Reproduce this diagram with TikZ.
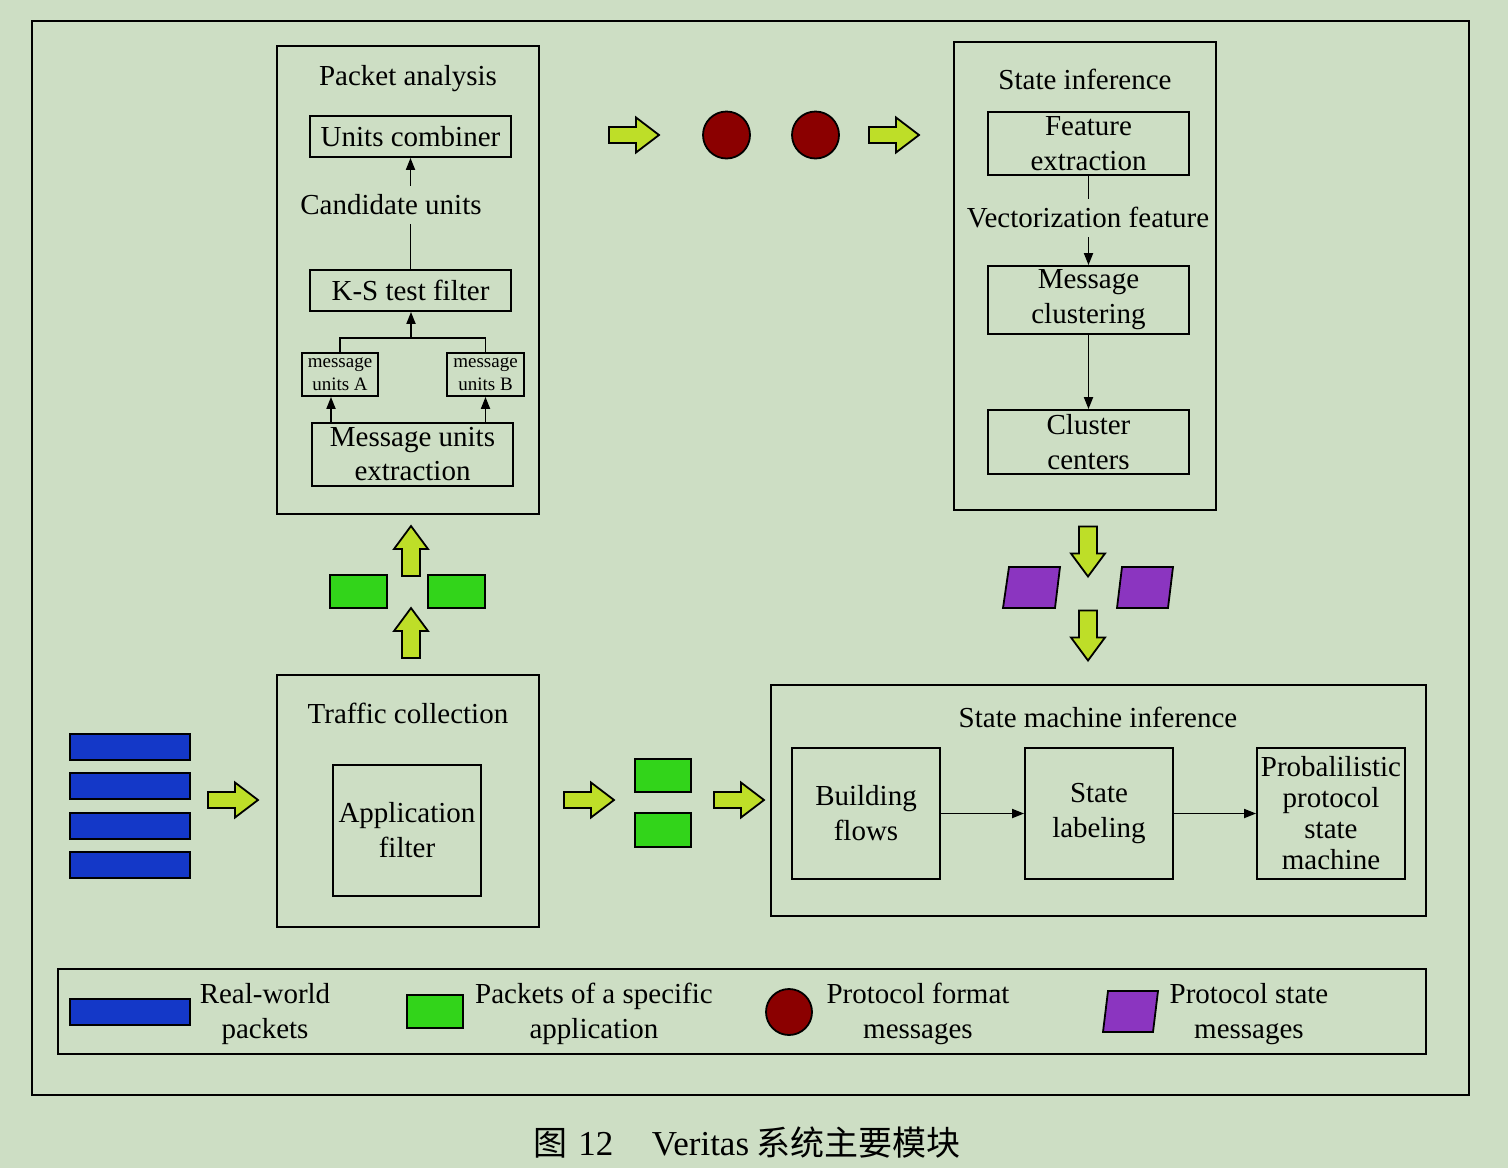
\documentclass[tikz,border=0pt]{standalone}
\usepackage{fontspec}
\setmainfont{Liberation Serif}
\newfontfamily\cjk{Noto Sans CJK SC}
\usetikzlibrary{arrows.meta}
\definecolor{bgc}{RGB}{205,222,196}
\definecolor{yg}{RGB}{190,222,40}
\definecolor{dred}{RGB}{139,0,0}
\definecolor{pgreen}{RGB}{50,212,26}
\definecolor{pblue}{RGB}{20,56,200}
\definecolor{ppurple}{RGB}{139,53,192}
\tikzset{
  big/.style={font=\fontsize{29}{35}\selectfont},
  box/.style={draw, line width=1.8pt, inner sep=0pt, align=center, big},
  lbl/.style={inner sep=0pt, align=center, big},
  arr/.style={-{Triangle[length=12pt,width=9pt]}, line width=1.8pt},
  ln/.style={line width=1.8pt},
  blk/.style={draw, line width=1.8pt, fill=yg, line join=miter},
  pkt/.style={draw, line width=1.8pt},
  rarrow/.pic={\draw[blk] (-25,-8) -- (2,-8) -- (2,-17.5) -- (25,0) -- (2,17.5) -- (2,8) -- (-25,8) -- cycle;},
  uarrow/.pic={\draw[blk] (-9,25) -- (-9,-2) -- (-17,-2) -- (0,-25) -- (17,-2) -- (9,-2) -- (9,25) -- cycle;},
  darrow/.pic={\draw[blk] (-9,-25) -- (-9,2) -- (-17,2) -- (0,25) -- (17,2) -- (9,2) -- (9,-25) -- cycle;},
}
\begin{document}
\begin{tikzpicture}[x=1pt,y=-1pt]
\useasboundingbox[fill=bgc] (0,0) rectangle (1508,1168);
% outer frame
\draw[line width=1.8pt] (32,21) rectangle (1469,1095);

% ---------- Packet analysis ----------
\node[box, minimum width=262, minimum height=468] (pa) at (408,280) {};
\node[lbl] (pat) at (408,79) {Packet analysis};
\node[box, minimum width=201, minimum height=41] (uc) at (410.5,136.5) {Units combiner};
\node[lbl, minimum height=38] (cu) at (391,205) {Candidate units};
\node[box, minimum width=201, minimum height=41] (ks) at (410.5,290.5) {K-S test filter};
\node[box, minimum width=76, minimum height=43, font=\fontsize{19}{23}\selectfont] (ma) at (340,374.5) {message\\units A};
\node[box, minimum width=77, minimum height=43, font=\fontsize{19}{23}\selectfont] (mb) at (485.5,374.5) {message\\units B};
\node[box, minimum width=201, minimum height=63, font=\fontsize{29}{34}\selectfont] (mue) at (412.5,454.5) {Message units\\extraction};
\coordinate (br) at (411,338);
\draw[arr] (uc.south |- cu.north) -- (uc.south);
\draw[ln] (ks.north) -- (ks.north |- cu.south);
\draw[arr] (br) -- (br |- ks.south);
\draw[ln] (ma.north) -- (ma.north |- br) -- (mb.north |- br) -- (mb.north);
\draw[arr] ([xshift=-9pt]ma.south |- mue.north) -- ([xshift=-9pt]ma.south);
\draw[arr] (mb.south |- mue.north) -- (mb.south);

% ---------- State inference ----------
\node[box, minimum width=262, minimum height=468] (si) at (1085,276) {};
\node[lbl] (sit) at (1085,79) {State inference};
\node[box, minimum width=201, minimum height=63] (fe) at (1088.5,143.5) {Feature\\extraction};
\node[lbl, minimum height=38] (vf) at (1088,218) {Vectorization feature};
\node[box, minimum width=201, minimum height=68] (mc) at (1088.5,300) {Message\\clustering};
\node[box, minimum width=201, minimum height=64] (cc) at (1088.5,442) {Cluster\\centers};
\draw[ln] (fe.south) -- (fe.south |- vf.north);
\draw[arr] (mc.north |- vf.south) -- (mc.north);
\draw[arr] (mc.south) -- (cc.north);

% ---------- top flow ----------
\pic at (634,135) {rarrow};
\node[circle, draw, line width=1.8pt, fill=dred, minimum size=47, inner sep=0pt] (c1) at (726.5,135) {};
\node[circle, draw, line width=1.8pt, fill=dred, minimum size=47, inner sep=0pt] (c2) at (815.5,135) {};
\pic at (894,135) {rarrow};

% ---------- left vertical flow ----------
\pic at (411,551) {uarrow};
\pic at (411,633) {uarrow};
\draw[pkt, fill=pgreen] (330,575) rectangle (387,608);
\draw[pkt, fill=pgreen] (428,575) rectangle (485,608);

% ---------- right vertical flow ----------
\pic at (1088,551.5) {darrow};
\pic at (1088,635.5) {darrow};
\draw[pkt, fill=ppurple] (1009,567) -- (1060,567) -- (1055,608) -- (1003,608) -- cycle;
\draw[pkt, fill=ppurple] (1122,567) -- (1173,567) -- (1168,608) -- (1117,608) -- cycle;

% ---------- Traffic collection ----------
\foreach \yy in {747,786,826,865} \draw[pkt, fill=pblue] (70,\yy-13) rectangle (190,\yy+13);
\pic at (233,800) {rarrow};
\node[box, minimum width=262, minimum height=252] (tc) at (408,801) {};
\node[lbl] (tct) at (408,713) {Traffic collection};
\node[box, minimum width=148, minimum height=131] (af) at (407,830.5) {Application\\filter};
\pic at (589,800) {rarrow};
\draw[pkt, fill=pgreen] (635,759) rectangle (691,792);
\draw[pkt, fill=pgreen] (635,813) rectangle (691,847);
\pic at (739,800) {rarrow};

% ---------- State machine inference ----------
\node[box, minimum width=655, minimum height=231] (smi) at (1098.5,800.5) {};
\node[lbl] (smit) at (1098,717) {State machine inference};
\node[box, minimum width=148, minimum height=131] (bf) at (866,813.5) {Building\\flows};
\node[box, minimum width=148, minimum height=131] (sl) at (1099,813.5) {State\\labeling};
\node[box, minimum width=148, minimum height=131, font=\fontsize{29}{31}\selectfont] (psm) at (1331,813.5) {Probalilistic\\protocol\\state\\machine};
\draw[arr] (bf.east) -- (sl.west);
\draw[arr] (sl.east) -- (psm.west);

% ---------- Legend ----------
\node[box, minimum width=1368, minimum height=85] (lg) at (742,1011.5) {};
\draw[pkt, fill=pblue] (70,999) rectangle (190,1025);
\node[lbl] (l1) at (265,1014) {Real-world\\packets};
\draw[pkt, fill=pgreen] (407,995) rectangle (463,1028);
\node[lbl] (l2) at (594,1014) {Packets of a specific\\application};
\node[circle, draw, line width=1.8pt, fill=dred, minimum size=46, inner sep=0pt] (lc) at (789,1012) {};
\node[lbl] (l3) at (918,1014) {Protocol format\\messages};
\draw[pkt, fill=ppurple] (1108,991) -- (1158,991) -- (1153,1032) -- (1103,1032) -- cycle;
\node[lbl] (l4) at (1249,1014) {Protocol state\\messages};

% ---------- caption ----------
\node[inner sep=0pt, font=\fontsize{35}{38}\selectfont] (cap) at (747,1143) {{\cjk\fontsize{34}{38}\selectfont 图}\hspace{0.3em}12\hspace{1.1em}Veritas\hspace{0.2em}{\cjk\fontsize{34}{38}\selectfont 系统主要模块}};
\end{tikzpicture}
\end{document}
